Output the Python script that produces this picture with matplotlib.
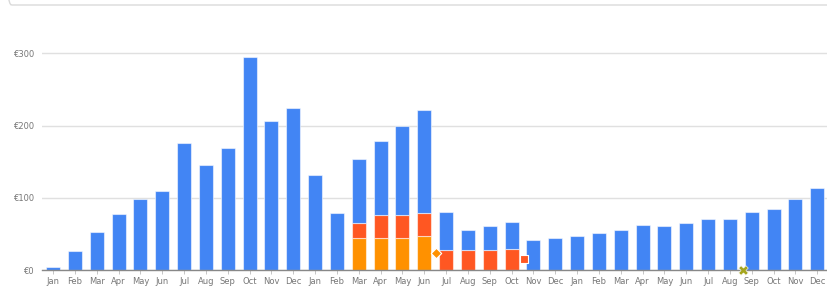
import matplotlib.pyplot as plt
import numpy as np
from matplotlib.patches import FancyBboxPatch

# Data (EUR per month, three years)
months = ['Jan', 'Feb', 'Mar', 'Apr', 'May', 'Jun',
          'Jul', 'Aug', 'Sep', 'Oct', 'Nov', 'Dec'] * 3

orange = [0] * 14 + [45, 45, 45, 47] + [0] * 18
red = [0] * 14 + [20, 31, 31, 32, 28, 28, 28, 29] + [0] * 14
total = [4, 27, 53, 77, 99, 110, 176, 146, 169, 295, 206, 224,
         131, 79, 154, 178, 199, 221, 80, 56, 61, 66, 41, 44,
         47, 51, 55, 63, 61, 65, 71, 71, 81, 85, 99, 114]

# Point markers
marker_x = [17.55, 21.58, 31.62]
marker_y = [23, 15, 0.5]

orange = np.array(orange, dtype=float)
red = np.array(red, dtype=float)
total = np.array(total, dtype=float)
blue = total - orange - red
x = np.arange(len(months))

W, H = 827, 291
fig = plt.figure(figsize=(W / 100, H / 100), dpi=100)
ax = fig.add_axes([42.2 / W, 21 / H, 786 / W, 260 / H])

edge = (1, 1, 1, 0.55)
bw = 0.64
ax.bar(x, orange, bw, color='#ff9100', edgecolor=edge, linewidth=0.8, zorder=3)
ax.bar(x, red, bw, bottom=orange, color='#ff5722', edgecolor=edge, linewidth=0.8, zorder=3)
ax.bar(x, blue, bw, bottom=orange + red, color='#4285f4', edgecolor=edge, linewidth=0.8, zorder=3)

ax.scatter(marker_x[0], marker_y[0], marker='D', s=28, color='#ff9100', edgecolor='white', linewidth=0.8, zorder=4)
ax.scatter(marker_x[1], marker_y[1], marker='s', s=30, color='#ff5722', edgecolor='white', linewidth=0.8, zorder=4)
ax.scatter(marker_x[2], marker_y[2], marker='X', s=48, color='#a5a51f', edgecolor='white', linewidth=0.4, zorder=6, clip_on=False)

ax.set_xlim(-0.5, 35.5)
ax.set_ylim(0, 360)
ax.set_yticks([0, 100, 200, 300])
ax.set_yticklabels(['€0', '€100', '€200', '€300'])
ax.set_xticks(x)
ax.set_xticklabels(months)

ax.grid(axis='y', color='#e0e0e0', linewidth=1, zorder=0)
for s in ['top', 'right', 'left']:
    ax.spines[s].set_visible(False)
ax.spines['bottom'].set_color('#888888')
ax.spines['bottom'].set_linewidth(1)
ax.spines['bottom'].set_zorder(5)
ax.tick_params(axis='y', length=0, pad=6, labelsize=6, labelcolor='#777777')
ax.tick_params(axis='x', length=3, width=0.6, color='#bbbbbb', pad=2,
               labelsize=6, labelcolor='#777777')

# Rounded card border above the chart
card = FancyBboxPatch((2.5, 286), 900, 200, boxstyle='round,pad=0,rounding_size=9',
                      transform=None, facecolor='none', edgecolor='#dadada', linewidth=1)
fig.patches.append(card)

fig.savefig('out.png', dpi=100)
